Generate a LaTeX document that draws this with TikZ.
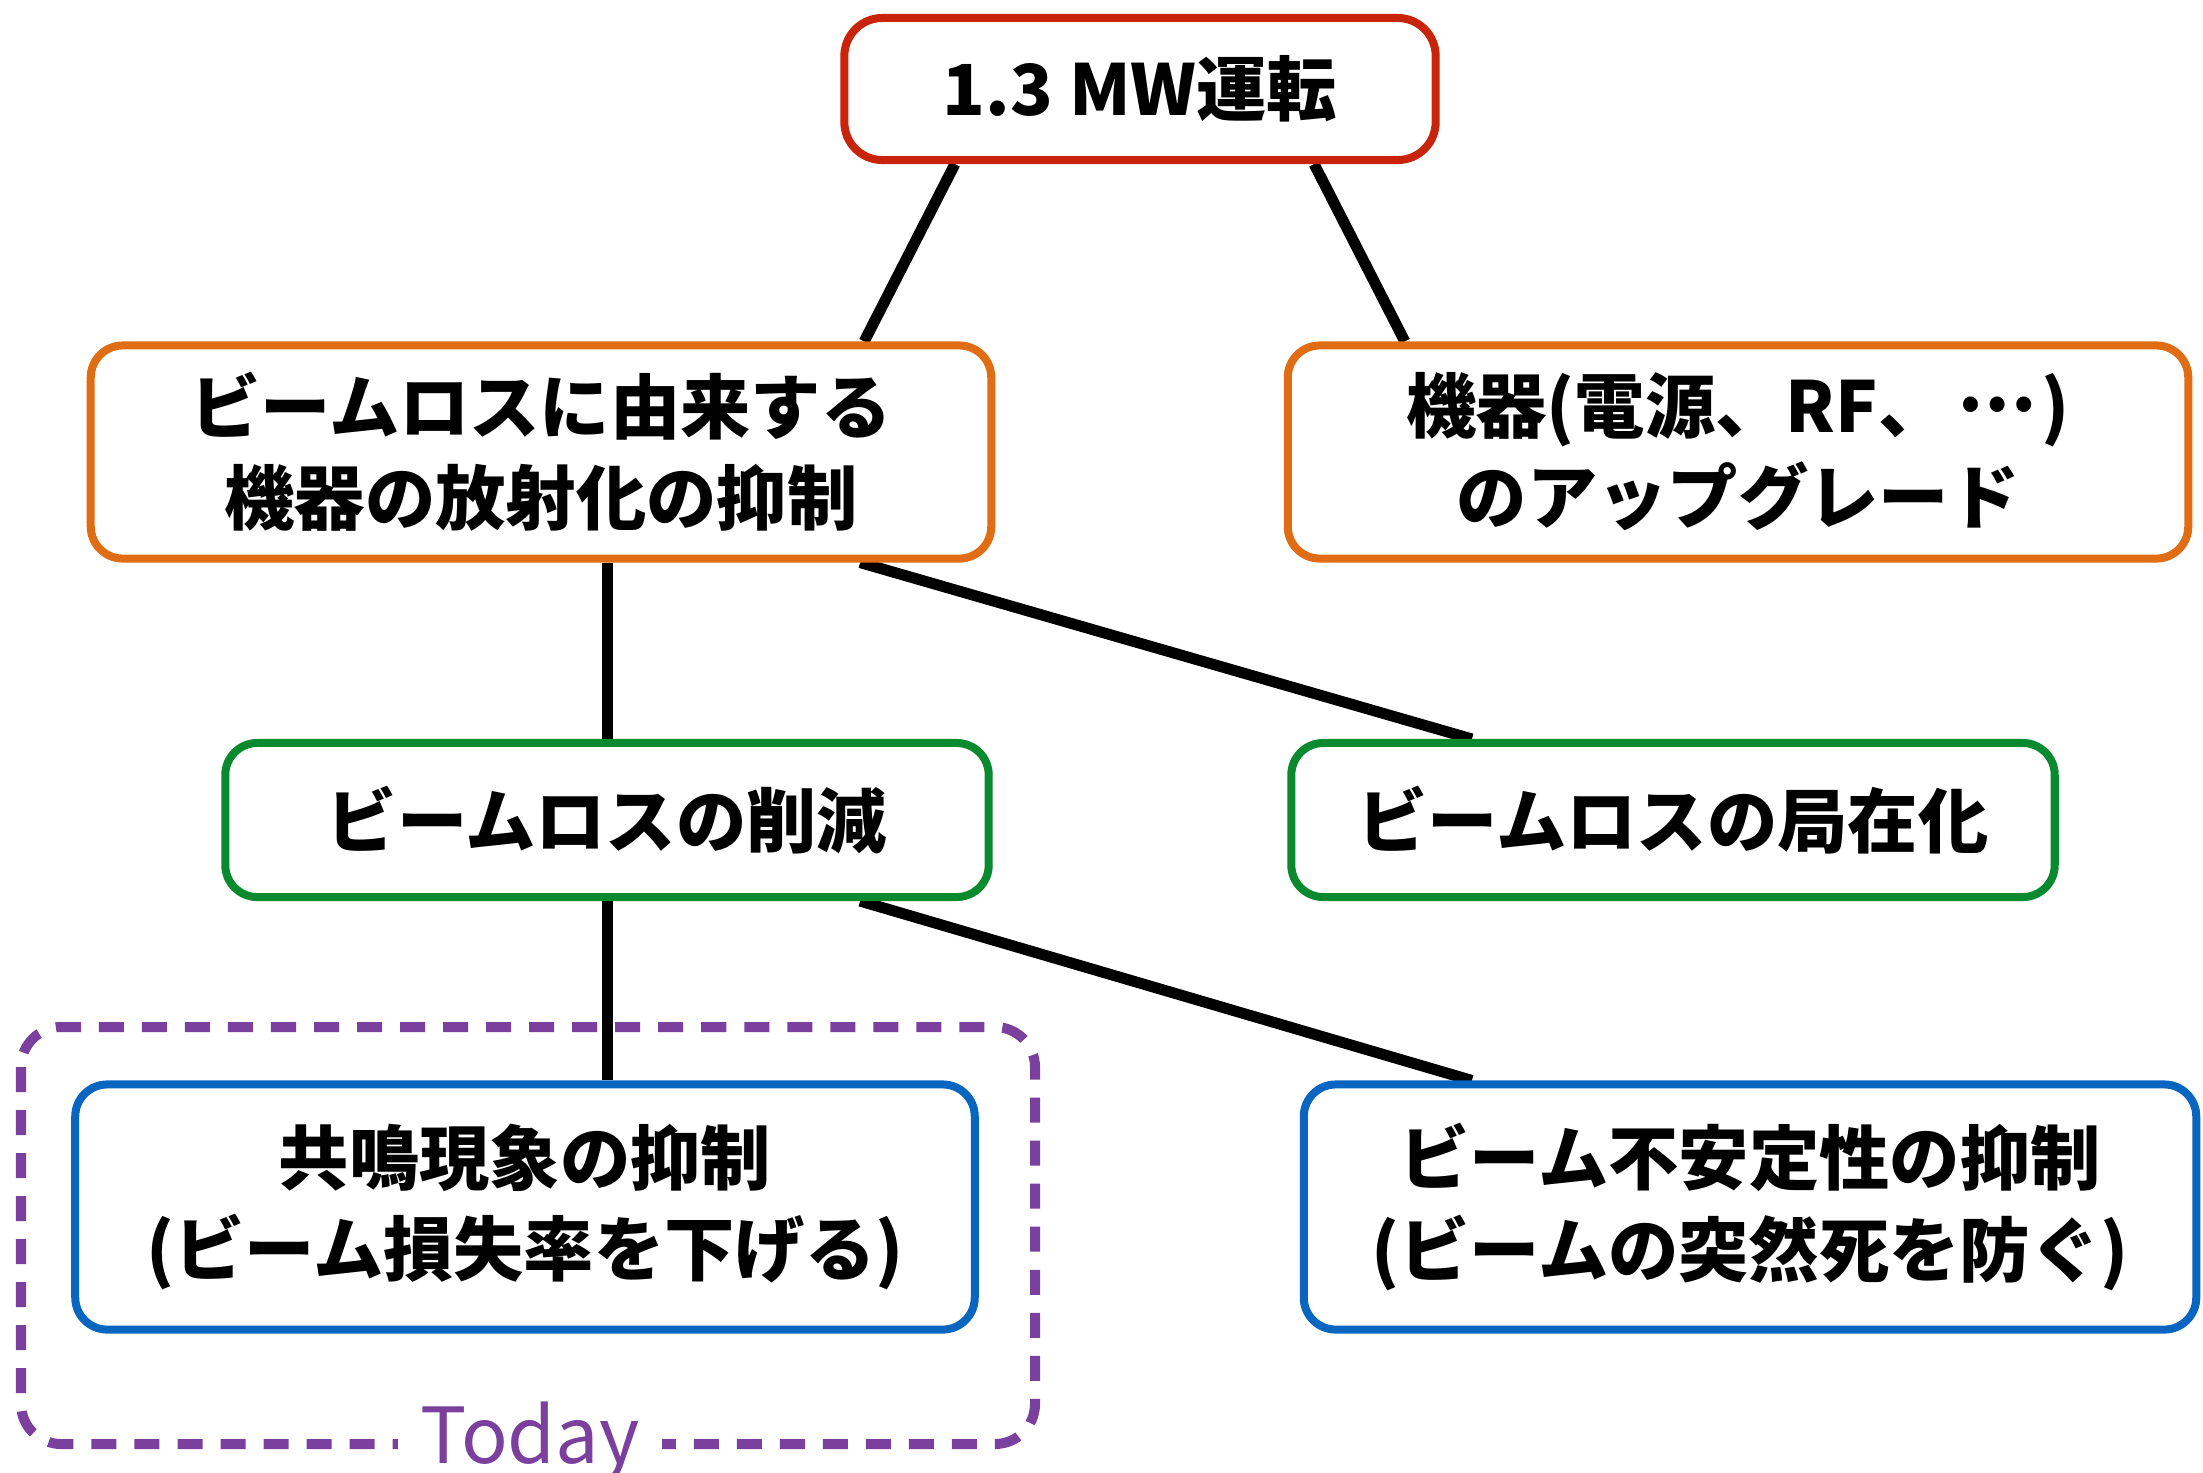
\documentclass[tikz,border=0pt]{standalone}
\usepackage{fontspec}
\setmainfont{Noto Sans CJK JP}
\usetikzlibrary{calc}
\definecolor{cred}{RGB}{200,36,12}
\definecolor{corange}{RGB}{224,108,20}
\definecolor{cgreen}{RGB}{10,138,46}
\definecolor{cblue}{RGB}{8,102,192}
\definecolor{cpurple}{RGB}{123,63,158}
\pgfdeclarelayer{bg}
\pgfsetlayers{bg,main}
\begin{document}
\begin{tikzpicture}[x=0.01cm,y=-0.01cm,
  box/.style={draw, line width=0.08cm, rounded corners=0.32cm, fill=white, inner sep=0pt, align=center,
    font=\fontsize{20}{25.9}\selectfont\bfseries},
  conn/.style={line width=0.11cm, black}]
\useasboundingbox (0,0) rectangle (2203,1472);

\node[box, draw=cred, rounded corners=0.38cm, minimum width=5.91cm, minimum height=1.42cm] (top) at (1140,89) {1.3 MW運転};
\node[box, draw=corange, minimum width=9.0cm, minimum height=2.13cm] (ol) at (541,452) {ビームロスに由来する\\機器の放射化の抑制};
\node[box, draw=corange, minimum width=9.0cm, minimum height=2.13cm] (or) at (1738,452) {機器(電源、RF、\hspace{0.12em}\raisebox{0.3em}{…}\hspace{0.08em})\\のアップグレード};
\node[box, draw=cgreen, minimum width=7.63cm, minimum height=1.54cm] (gl) at (607,820) {ビームロスの削減};
\node[box, draw=cgreen, minimum width=7.63cm, minimum height=1.54cm] (gr) at (1673,820) {ビームロスの局在化};
\node[box, draw=cblue, minimum width=8.99cm, minimum height=2.45cm] (bl) at (525,1207) {共鳴現象の抑制\\(ビーム損失率を下げる)};
\node[box, draw=cblue, minimum width=8.92cm, minimum height=2.45cm] (br) at (1750,1207) {ビーム不安定性の抑制\\(ビームの突然死を防ぐ)};

\begin{pgfonlayer}{bg}
\fill[white] (0,0) rectangle (2203,1472);
\draw[cpurple, line width=0.1cm, dash pattern=on 0.25cm off 0.18cm, rounded corners=0.4cm] (21,1027) rectangle (1035,1444);
\draw[conn] ([xshift=-1.85cm]top.south) -- ([xshift=3.23cm]ol.north);
\draw[conn] ([xshift=1.74cm]top.south) -- ([xshift=-3.33cm]or.north);
\draw[conn] (gl.north |- ol.south) -- (gl.north);
\draw[conn] ([xshift=3.19cm]ol.south) -- ([xshift=-2.01cm]gr.north);
\draw[conn] (gl.south) -- (gl.south |- bl.north);
\draw[conn] ([xshift=2.53cm]gl.south) -- ([xshift=-2.78cm]br.north);
\end{pgfonlayer}

\node[fill=white, inner xsep=0.22cm, inner ysep=0.1cm, anchor=base, text=cpurple, font=\fontsize{22}{26}\selectfont] (today) at (530,1463) {Today};
\end{tikzpicture}
\end{document}
